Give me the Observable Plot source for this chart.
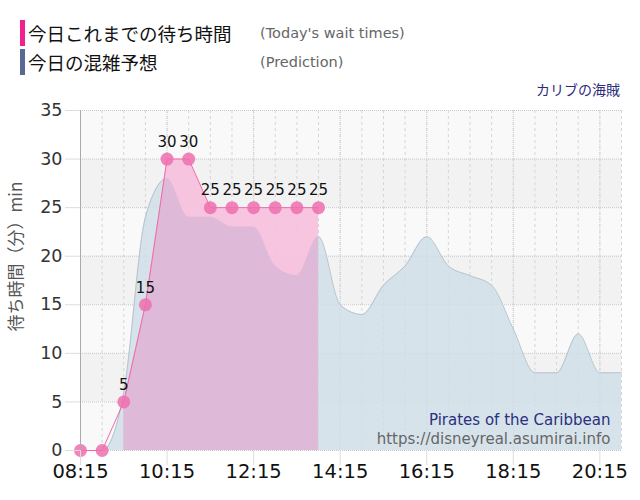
<!DOCTYPE html>
<html>
<head>
<meta charset="utf-8">
<script src="https://cdn.jsdelivr.net/npm/d3@7"></script>
<script src="https://cdn.jsdelivr.net/npm/@observablehq/plot@0.6"></script>
<style>
  body { margin: 0; background: #fff; }
  #wrap { position: relative; width: 640px; height: 500px; overflow: hidden; }
  #header { position: relative; height: 95px; font-family: "Noto Sans CJK JP", sans-serif; }
  .row { position: absolute; left: 20px; height: 26px; }
  .bar { position: absolute; left: 0; top: 0; width: 5px; height: 26px; }
  .jp { position: absolute; left: 8px; top: 0; line-height: 26px; font-size: 18.5px; color: #111; white-space: nowrap; }
  .en { position: absolute; left: 240px; top: 0; line-height: 26px; font-size: 14.5px; color: #666; white-space: nowrap; font-family: "DejaVu Sans", sans-serif; }
  #ride { position: absolute; right: 20px; top: 79px; font-size: 14px; color: #2b2b7a; line-height: 20px; white-space: nowrap; }
  #chart { position: absolute; left: 0; top: 95px; }
</style>
</head>
<body>
<div id="wrap">
  <div id="header"></div>
  <div id="chart"></div>
</div>
<script>
// ---- data ----
const legendLabels = ["今日これまでの待ち時間", "今日の混雑予想"];
const legendLabelsEn = ["(Today's wait times)", "(Prediction)"];
const legendColors = ["#f0208f", "#5a6898"];
const rideNameJa = "カリブの海賊";
const rideNameEn = "Pirates of the Caribbean";
const sourceUrl = "https://disneyreal.asumirai.info";
const yAxisLabel = "待ち時間（分）min";

const actualTimes = ["08:15","08:45","09:15","09:45","10:15","10:45","11:15","11:45","12:15","12:45","13:15","13:45"];
const actualWait  = [0, 0, 5, 15, 30, 30, 25, 25, 25, 25, 25, 25];

const predTimes = ["08:15","08:45","09:15","09:45","10:15","10:45","11:15","11:45","12:15","12:45","13:15","13:45",
                   "14:15","14:45","15:15","15:45","16:15","16:45","17:15","17:45","18:15","18:45","19:15","19:45","20:15","20:45"];
const predWait  = [0, 0, 6, 24, 28, 24, 24, 23, 23, 19, 18, 22,
                   15, 14, 17, 19, 22, 19, 18, 17, 12.5, 8, 8, 12, 8, 8];

const xTickLabels = ["08:15","10:15","12:15","14:15","16:15","18:15","20:15"];
const yTicks = [0, 5, 10, 15, 20, 25, 30, 35];
const bandStarts = [5, 15, 25];
const xDomain = ["08:15", "20:45"];

// ---- header ----
const header = document.getElementById("header");
legendLabels.forEach((lab, i) => {
  const row = document.createElement("div");
  row.className = "row";
  row.style.top = (20 + i * 29) + "px";
  row.innerHTML = `<span class="bar" style="background:${legendColors[i]}"></span>` +
                  `<span class="jp">${lab}</span><span class="en">${legendLabelsEn[i]}</span>`;
  header.appendChild(row);
});
const ride = document.createElement("div");
ride.id = "ride";
ride.textContent = rideNameJa;
header.appendChild(ride);

// ---- chart ----
const t = s => new Date(`2000-01-01T${s}:00Z`);
const actual = actualTimes.map((s, i) => ({time: t(s), wait: actualWait[i]}));
const pred = predTimes.map((s, i) => ({time: t(s), wait: predWait[i]}));

const chart = Plot.plot({
  width: 640,
  height: 405,
  marginTop: 15,
  marginBottom: 50,
  marginLeft: 80,
  marginRight: 19,
  style: {fontFamily: "DejaVu Sans, sans-serif", background: "transparent", overflow: "visible"},
  x: {type: "utc", domain: xDomain.map(t), label: null},
  y: {domain: [0, 35], label: null},
  marks: [
    Plot.frame({fill: "#f9f9f9", stroke: null}),
    Plot.rect(bandStarts, {y1: d => d, y2: d => d + 5, fill: "#f2f2f2"}),
    Plot.ruleY(yTicks, {stroke: "#c8c8c8", strokeDasharray: "1,1"}),
    Plot.ruleX(predTimes.map(t), {stroke: "#d6d6d6", strokeDasharray: "3,3"}),
    Plot.ruleX(xTickLabels.map(t), {stroke: "#cfcfcf", strokeDasharray: "1,1"}),
    Plot.areaY(pred, {x: "time", y: "wait", curve: "monotone-x", fill: "rgb(208,222,230)", fillOpacity: 0.82, className: "pred-area"}),
    Plot.lineY(pred, {x: "time", y: "wait", curve: "monotone-x", stroke: "#b5c4cf", strokeWidth: 1}),
    Plot.areaY(actual, {filter: d => d.wait > 0, x: "time", y: "wait", fill: "rgb(247,192,222)", fillOpacity: 0.92, className: "actual-area"}),
    Plot.lineY(actual, {x: "time", y: "wait", stroke: "#f06aa8", strokeWidth: 1}),
    Plot.dot(actual, {x: "time", y: "wait", r: 6.5, fill: "#ef6fae", fillOpacity: 0.85}),
    Plot.text(actual, {filter: d => d.wait > 0, x: "time", y: "wait", text: d => String(d.wait), dy: -17, fontSize: 15, fill: "#111"}),
    Plot.text([rideNameEn], {frameAnchor: "bottom-right", dx: -11, dy: -26, fontSize: 15, fill: "#2b3080", textAnchor: "end"}),
    Plot.text([sourceUrl], {frameAnchor: "bottom-right", dx: -11, dy: -7, fontSize: 15, fill: "#666", textAnchor: "end"}),
    Plot.ruleX([t(xDomain[0])], {stroke: "#aaa"}),
    Plot.axisY({ticks: yTicks, tickSize: 15, tickPadding: 3, fontSize: 17.5, stroke: "#ddd", color: "#333", label: null}),
    Plot.axisX({ticks: xTickLabels.map(t), tickFormat: d3.utcFormat("%H:%M"), tickSize: 15, tickPadding: -1, fontSize: 19.5, stroke: "#ddd", color: "#111", label: null}),
    Plot.text([yAxisLabel], {frameAnchor: "left", dx: -64, dy: -24, rotate: -90, textAnchor: "middle", fontSize: 17, fill: "#555", fontFamily: "Noto Sans CJK JP"})
  ]
});
document.getElementById("chart").appendChild(chart);

// overlap of today's area with the prediction area: the prediction path clipped by today's path
const svg = d3.select(chart);
const actualPath = svg.select("g.actual-area path");
const predPath = svg.select("g.pred-area path");
if (!actualPath.empty() && !predPath.empty()) {
  svg.insert("defs", ":first-child")
    .append("clipPath").attr("id", "actual-clip")
    .append("path").attr("d", actualPath.attr("d"));
  const actualGroup = actualPath.node().parentNode;
  const g = document.createElementNS("http://www.w3.org/2000/svg", "g");
  g.setAttribute("clip-path", "url(#actual-clip)");
  const p = document.createElementNS("http://www.w3.org/2000/svg", "path");
  p.setAttribute("d", predPath.attr("d"));
  p.setAttribute("fill", "rgb(220,184,215)");
  p.setAttribute("fill-opacity", "0.92");
  g.appendChild(p);
  actualGroup.parentNode.insertBefore(g, actualGroup.nextSibling);
}
</script>
</body>
</html>
